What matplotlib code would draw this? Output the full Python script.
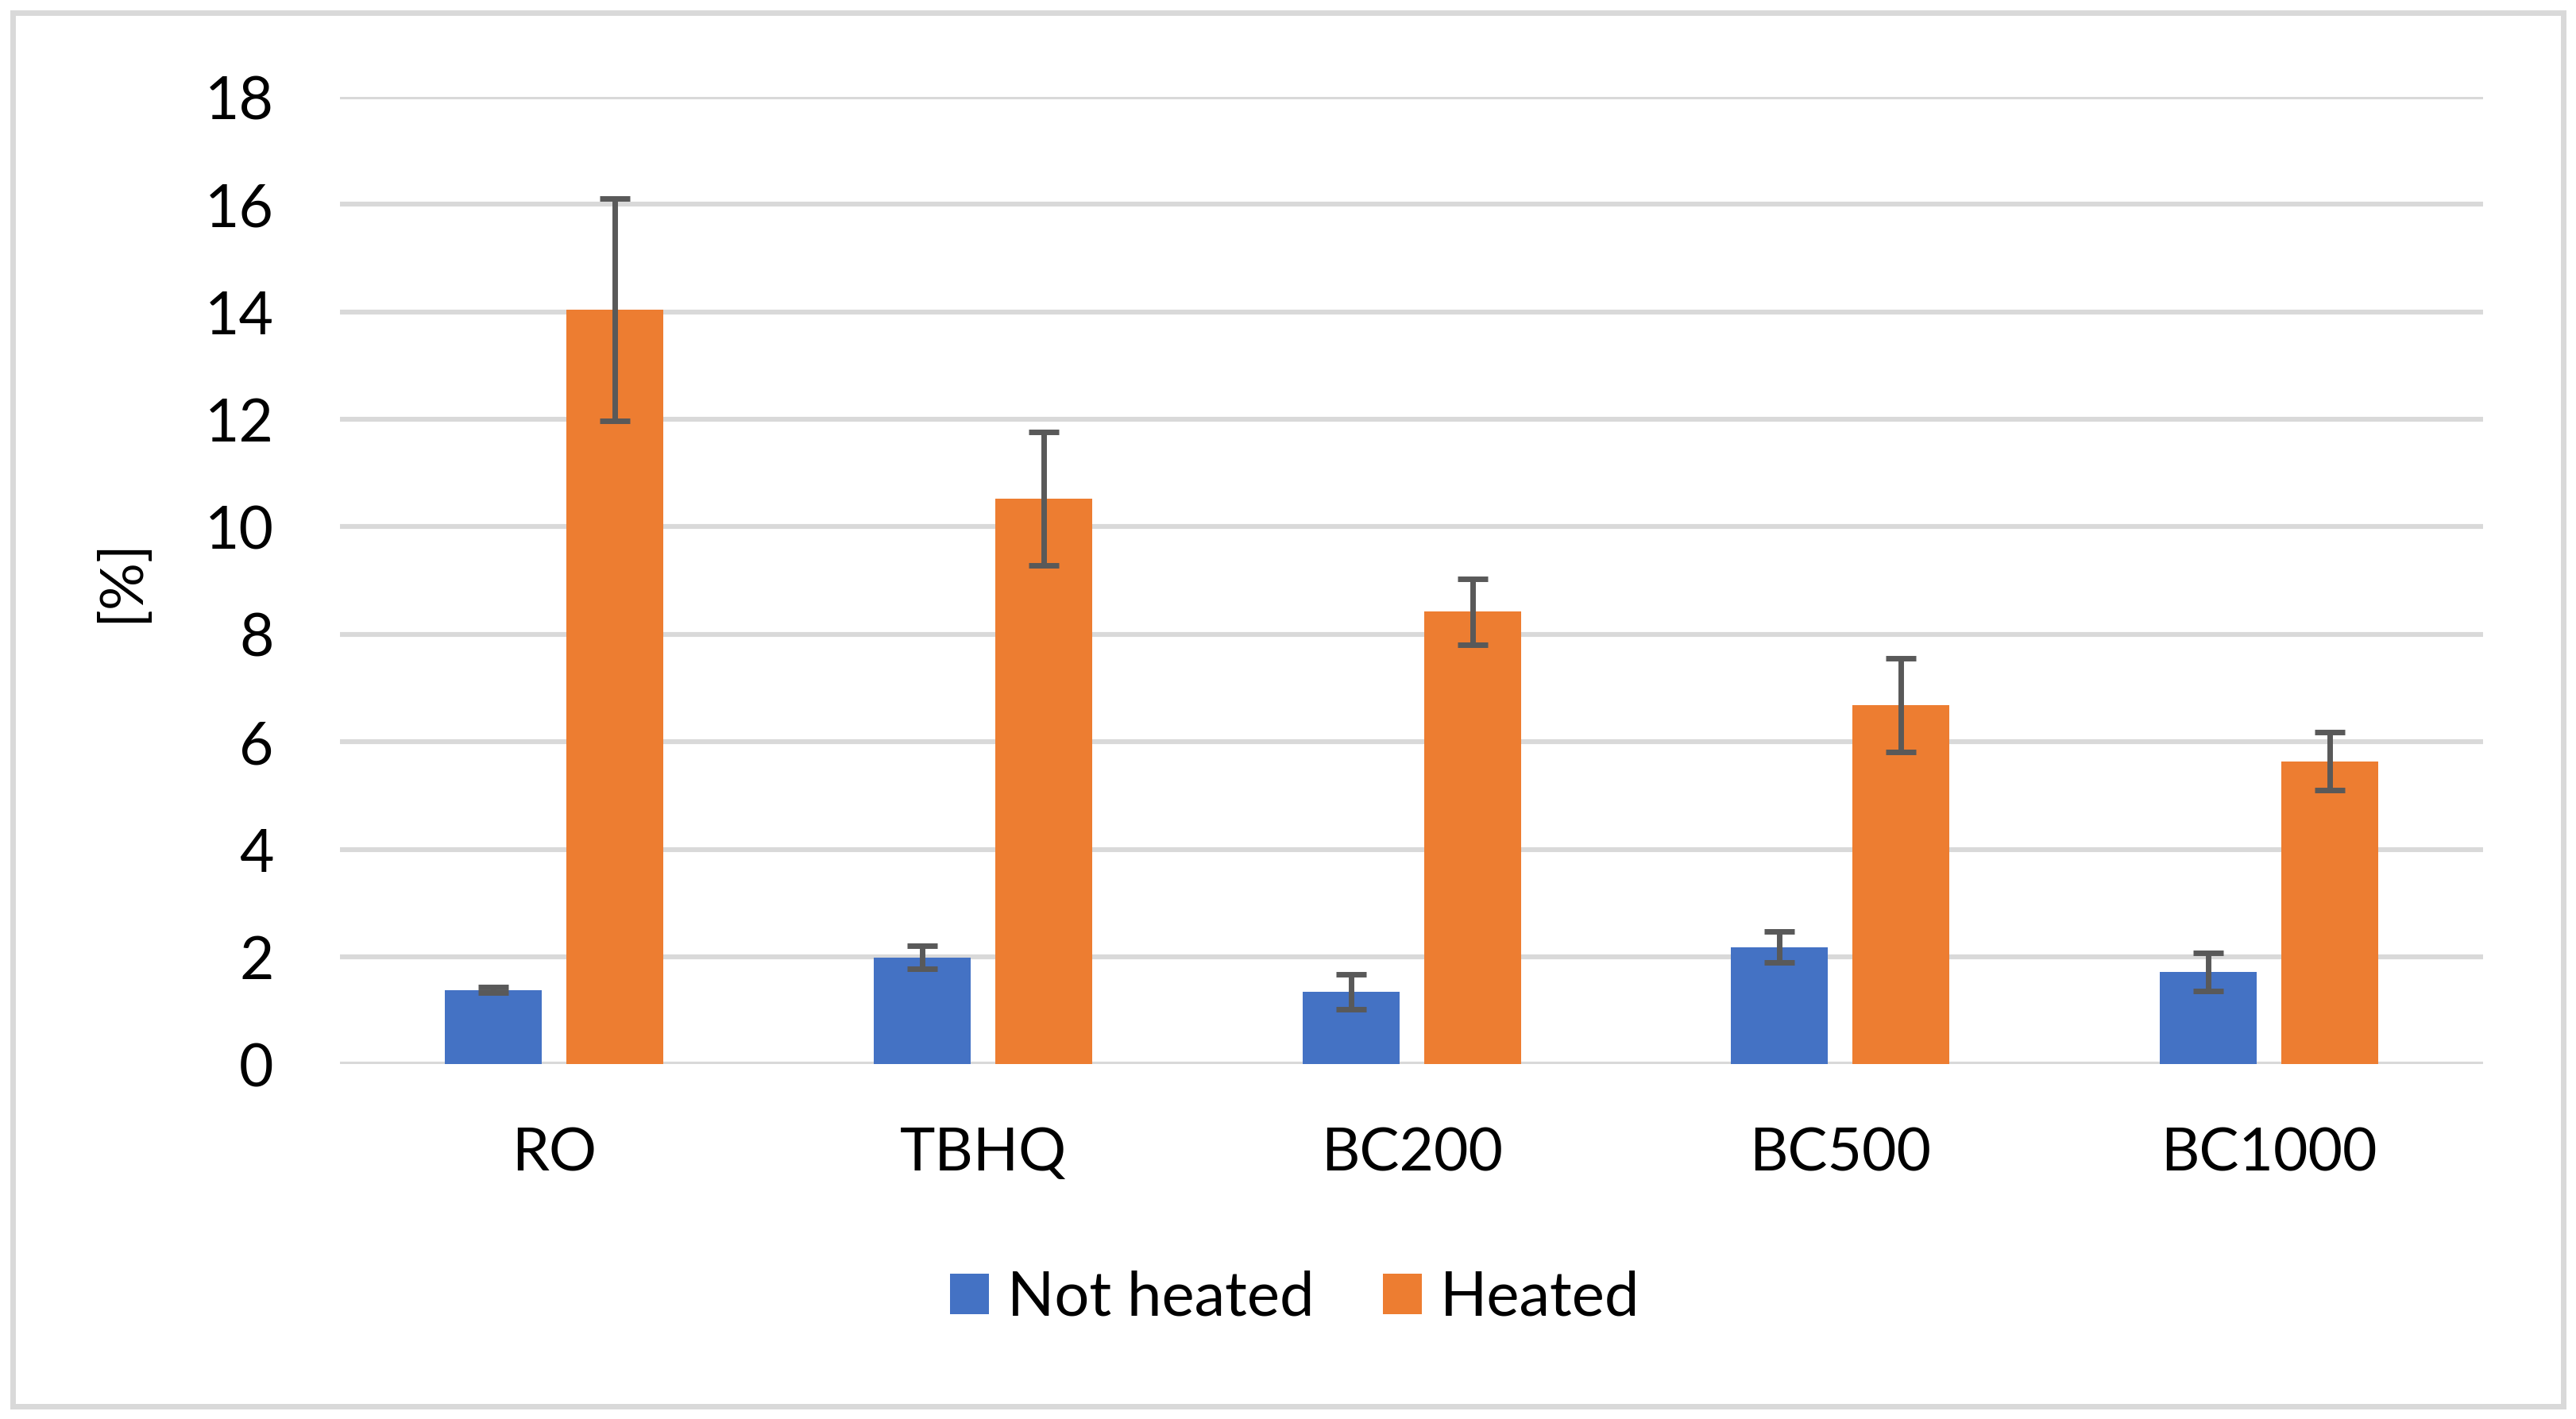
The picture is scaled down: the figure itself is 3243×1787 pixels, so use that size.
import matplotlib.pyplot as plt
from matplotlib.patches import Rectangle
import numpy as np

plt.rcParams['font.family'] = ['Lato', 'DejaVu Sans']

categories = ['RO', 'TBHQ', 'BC200', 'BC500', 'BC1000']
not_heated = [1.38, 1.99, 1.35, 2.18, 1.72]
not_heated_err = [0.05, 0.21, 0.33, 0.29, 0.35]
heated = [14.04, 10.53, 8.42, 6.68, 5.64]
heated_err = [2.07, 1.24, 0.61, 0.87, 0.54]
yticks = [0, 2, 4, 6, 8, 10, 12, 14, 16, 18]

fig = plt.figure(figsize=(16.215, 8.935), dpi=200)
ax = fig.add_axes([0.132, 0.25, 0.832, 0.6817])

x = np.arange(len(categories))
w = 0.226
off = 0.1417
err_kw = dict(ecolor='#595959', elinewidth=2.5, capsize=7, capthick=2.5)

ax.bar(x - off, not_heated, w, yerr=not_heated_err, color='#4472C4',
       label='Not heated', error_kw=err_kw, zorder=3)
ax.bar(x + off, heated, w, yerr=heated_err, color='#ED7D31',
       label='Heated', error_kw=err_kw, zorder=3)

ax.set_xlim(-0.5, len(categories) - 0.5)
ax.set_ylim(0, 18)
ax.set_yticks(yticks)
ax.set_xticks(x)
ax.set_xticklabels(categories)
ax.tick_params(axis='both', length=0, labelsize=27, colors='black')
ax.tick_params(axis='y', pad=30)
ax.tick_params(axis='x', pad=28)
ax.grid(axis='y', color='#d9d9d9', linewidth=2.2, zorder=0)
for s in ax.spines.values():
    s.set_visible(False)
ax.set_ylabel('[%]', fontsize=27)
ax.yaxis.set_label_coords(-0.0893, 0.5)

ax.legend(loc='center', bbox_to_anchor=(0.5027, 0.085), bbox_transform=fig.transFigure,
          ncol=2, frameon=False, fontsize=28, handlelength=0.63, handleheight=0.63,
          handletextpad=0.3, columnspacing=1.1)

fig.patches.append(Rectangle((0.005, 0.009), 0.99, 0.982, transform=fig.transFigure,
                             fill=False, edgecolor='#d9d9d9', linewidth=2.5))

fig.savefig('out.png', dpi=200)
